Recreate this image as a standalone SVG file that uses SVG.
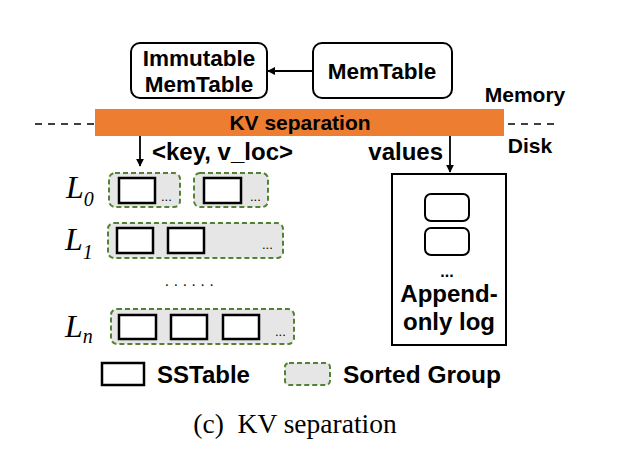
<svg xmlns="http://www.w3.org/2000/svg" width="624" height="460" viewBox="0 0 624 460">
<defs>
<marker id="ah" viewBox="0 0 10 10" refX="9" refY="5" markerWidth="8" markerHeight="8" markerUnits="userSpaceOnUse" orient="auto"><path d="M0,0 L10,5 L0,10 z" fill="#000"/></marker>
<style>
.b{font-family:"Liberation Sans",Arial,sans-serif;font-weight:bold;fill:#000}
.node{fill:#fff;stroke:#000;stroke-width:2}
.grp{fill:#e7e6e6;stroke:#548235;stroke-width:2;stroke-dasharray:5 3}
.sst{fill:#fff;stroke:#000;stroke-width:2.5}
.lv{font-family:"Liberation Serif","Times New Roman",serif;font-style:italic;fill:#000}
.dots{font-family:"Liberation Sans",Arial,sans-serif;font-size:13px;fill:#000}
.conn{stroke:#000;stroke-width:1.8;fill:none}
</style>
</defs>
<rect width="624" height="460" fill="#fff"/>
<g id="immutable-memtable">
<rect class="node" x="131" y="43" width="136" height="55" rx="9"/>
<text class="b" font-size="22.5" x="199" y="66" text-anchor="middle">Immutable</text>
<text class="b" font-size="22.5" x="199" y="92" text-anchor="middle">MemTable</text>
</g>
<g id="memtable">
<rect class="node" x="313" y="43" width="139" height="55" rx="9"/>
<text class="b" font-size="22.5" x="382" y="79" text-anchor="middle">MemTable</text>
</g>
<text class="b" font-size="21" x="525" y="102" text-anchor="middle">Memory</text>
<text class="b" font-size="21" x="530" y="153" text-anchor="middle">Disk</text>
<g id="divider">
<line x1="35" y1="124" x2="95" y2="124" stroke="#000" stroke-width="1.5" stroke-dasharray="7 6"/>
<line x1="508" y1="124" x2="560" y2="124" stroke="#000" stroke-width="1.5" stroke-dasharray="7 6"/>
</g>
<g id="kv-separation">
<rect x="95" y="109" width="409" height="27" fill="#ed7d31"/>
<text class="b" font-size="21" x="300" y="130" text-anchor="middle">KV separation</text>
</g>
<g id="connectors">
<line class="conn" x1="313" y1="71" x2="268" y2="71" marker-end="url(#ah)"/>
<line class="conn" x1="140" y1="136" x2="140" y2="166" marker-end="url(#ah)"/>
<line class="conn" x1="450" y1="136" x2="450" y2="172" marker-end="url(#ah)"/>
</g>
<text class="b" font-size="24" x="152" y="160">&lt;key, v_loc&gt;</text>
<text class="b" font-size="24" x="443" y="160" text-anchor="end">values</text>
<g id="append-only-log">
<rect x="392" y="174" width="114" height="171" fill="#fff" stroke="#000" stroke-width="2"/>
<rect class="node" x="425" y="194" width="44" height="27" rx="6"/>
<rect class="node" x="425" y="228" width="44" height="27" rx="6"/>
<text class="b" font-size="16" x="447" y="277" text-anchor="middle">...</text>
<text class="b" font-size="24" x="449" y="302" text-anchor="middle">Append-</text>
<text class="b" font-size="24" x="449" y="330" text-anchor="middle">only log</text>
</g>
<g id="level-0">
<text class="lv" font-size="32" x="66" y="198">L<tspan font-size="20" dy="8">0</tspan></text>
<rect class="grp" x="109" y="173" width="71" height="34" rx="6"/>
<rect class="sst" x="119" y="178" width="36" height="25"/>
<text class="dots" x="161" y="201">...</text>
<rect class="grp" x="194" y="173" width="74" height="34" rx="6"/>
<rect class="sst" x="204" y="178" width="37" height="25"/>
<text class="dots" x="250" y="201">...</text>
</g>
<g id="level-1">
<text class="lv" font-size="32" x="65" y="250">L<tspan font-size="20" dy="9">1</tspan></text>
<rect class="grp" x="108" y="223" width="175" height="35" rx="6"/>
<rect class="sst" x="117" y="228" width="36" height="25"/>
<rect class="sst" x="168" y="228" width="36" height="25"/>
<text class="dots" x="262" y="249">...</text>
</g>
<text font-family="'Liberation Serif','Times New Roman',serif" font-size="15" fill="#000" x="165" y="286" letter-spacing="5.2">......</text>
<g id="level-n">
<text class="lv" font-size="32" x="65" y="337">L<tspan font-size="20" dy="6">n</tspan></text>
<rect class="grp" x="111" y="309" width="183" height="35" rx="6"/>
<rect class="sst" x="119" y="315" width="37" height="24"/>
<rect class="sst" x="171" y="315" width="36" height="24"/>
<rect class="sst" x="223" y="315" width="36" height="24"/>
<text class="dots" x="275" y="336">...</text>
</g>
<g id="legend">
<rect class="sst" x="102" y="363" width="42" height="22" stroke-width="2"/>
<text class="b" font-size="24" x="157" y="383">SSTable</text>
<rect class="grp" x="285" y="363" width="45" height="22" rx="4"/>
<text class="b" font-size="24.5" x="343" y="383">Sorted Group</text>
</g>
<text font-family="'Liberation Serif','Times New Roman',serif" font-size="27.5" x="295" y="433" text-anchor="middle" xml:space="preserve">(c)  KV separation</text>
</svg>
